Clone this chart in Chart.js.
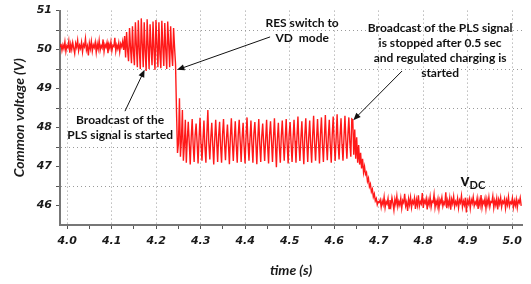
<!DOCTYPE html>
<html>
<head>
<meta charset="utf-8">
<script src="https://cdn.jsdelivr.net/npm/chart.js@4.4.1/dist/chart.umd.min.js"></script>
<style>
  body { margin: 0; background: #fff; }
  #wrap { width: 531px; height: 284px; position: relative; }
</style>
</head>
<body>
<div id="wrap"><canvas id="myChart"></canvas></div>
<script>
// sampled signal, one value every sampleStep seconds from startTime
const startTime = 3.984;
const sampleStep = 0.0022;

const beforeBroadcast = [
  50.08, 50.15, 49.98, 50.12, 50.02, 50.20, 49.95, 50.10, 50.05, 50.22,
  49.92, 50.14, 50.00, 50.18, 50.04, 49.90, 50.16, 50.06, 50.24, 49.97,
  50.11, 50.03, 50.19, 49.94, 50.13, 50.07, 50.28, 49.99, 50.09, 49.85,
  50.17, 50.02, 50.21, 49.96, 50.12, 50.05, 50.19, 49.93, 50.15, 50.01,
  50.23, 49.98, 50.10, 50.04, 50.26, 49.95, 50.13, 50.06, 50.18, 49.91,
  50.14, 50.03, 50.20, 49.97, 50.11, 50.08, 50.30, 49.96, 50.12, 50.02,
  50.17, 49.94, 50.15, 50.07, 50.21, 49.99
];

const plsBroadcast = [
  50.35, 49.80, 50.45, 50.00, 49.70, 50.55, 50.05, 49.65, 50.60, 49.95,
  49.60, 50.70, 50.10, 49.55, 50.75, 50.00, 49.50, 50.80, 50.15, 49.55,
  50.70, 49.95, 49.45, 50.78, 50.10, 49.50, 50.65, 50.05, 49.60, 50.72,
  49.98, 49.48, 50.76, 50.12, 49.55, 50.70, 49.90, 49.52, 50.74, 50.08,
  49.58, 50.68, 50.00, 49.50, 50.72, 50.15, 49.55, 50.60, 49.95, 49.58,
  50.55, 50.05, 49.62
];

const vdMode = [
  48.40, 47.35, 47.60, 48.75, 47.25, 47.70, 48.45, 47.15, 47.55, 48.20,
  47.10, 47.70, 48.15, 47.60, 47.05, 47.75, 48.22, 47.55, 47.12, 47.80,
  48.10, 47.62, 47.08, 47.72, 48.25, 47.58, 47.15, 47.68, 48.18, 47.50,
  47.10, 47.85, 48.45, 47.60, 47.18, 47.74, 48.12, 47.55, 47.05, 47.70,
  48.20, 47.64, 47.12, 47.78, 48.15, 47.52, 47.10, 47.82, 48.22, 47.60,
  47.16, 47.72, 48.08, 47.58, 47.06, 47.76, 48.24, 47.62, 47.14, 47.70,
  48.16, 47.55, 47.10, 47.80, 48.20, 47.66, 47.12, 47.74, 48.12, 47.52,
  47.08, 47.78, 48.26, 47.60, 47.15, 47.70, 48.18, 47.58, 47.10, 47.84,
  48.14, 47.62, 47.06, 47.72, 48.22, 47.56, 47.12, 47.76, 48.10, 47.60,
  47.14, 47.70, 48.20, 47.54, 47.08, 47.80, 48.16, 47.64, 47.12, 47.74,
  48.24, 47.58, 46.98, 47.70, 48.12, 47.52, 47.10, 47.78, 48.18, 47.62,
  47.15, 47.72, 48.22, 47.56, 47.08, 47.82, 48.14, 47.60, 47.12, 47.70,
  48.20, 47.66, 47.10, 47.76, 48.28, 47.58, 47.14, 47.72, 48.16, 47.54,
  47.06, 47.80, 48.24, 47.62, 47.12, 47.74, 48.18, 47.56, 47.10, 47.78,
  48.30, 47.60, 47.15, 47.70, 48.22, 47.64, 47.08, 47.82, 48.26, 47.58,
  47.12, 47.74, 48.32, 47.62, 47.16, 47.76, 48.20, 47.56, 47.10, 47.80,
  48.28, 47.64, 47.14, 47.72, 48.34, 47.60, 47.18, 47.78, 48.24, 47.58,
  47.15, 47.74, 48.30, 47.66, 47.20, 47.80, 48.26, 47.62, 47.25, 48.22
];

const chargingRamp = [
  48.20, 47.30, 47.95, 47.20, 47.75, 47.10, 47.55, 47.05, 47.35, 46.95,
  47.20, 46.85, 47.00, 46.80, 46.85, 46.62, 46.70, 46.48, 46.55, 46.35,
  46.42, 46.22, 46.30, 46.12, 46.18, 46.02, 46.10
];

const regulated = [
  46.08, 46.15, 45.96, 46.12, 46.02, 46.22, 45.94, 46.10, 46.04, 46.18,
  45.92, 46.14, 46.00, 46.20, 46.06, 45.88, 46.16, 46.03, 46.24, 45.97,
  46.11, 46.01, 46.19, 45.93, 46.13, 46.07, 46.30, 45.99, 46.09, 45.86,
  46.17, 46.02, 46.21, 45.95, 46.12, 46.05, 46.19, 45.91, 46.15, 46.00,
  46.26, 45.98, 46.10, 46.04, 46.32, 45.94, 46.13, 46.06, 46.18, 45.90,
  46.14, 46.02, 46.22, 45.96, 46.11, 46.08, 46.28, 45.95, 46.12, 46.01,
  46.17, 45.92, 46.15, 46.06, 46.21, 45.98, 46.09, 46.03, 46.34, 45.93,
  46.13, 46.00, 46.19, 45.89, 46.16, 46.05, 46.23, 45.97, 46.10, 46.02,
  46.18, 45.94, 46.14, 46.07, 46.25, 45.96, 46.11, 46.01, 46.20, 45.82,
  46.13, 46.04, 46.17, 45.93, 46.15, 46.06, 46.22, 45.99, 46.09, 46.03,
  46.19, 45.91, 46.14, 46.00, 46.27, 45.95, 46.12, 46.05, 46.18, 45.92,
  46.16, 46.02, 46.21, 45.97, 46.10, 46.08, 46.24, 45.94, 46.13, 46.01,
  46.18, 45.90, 46.15, 46.04, 46.20, 45.96, 46.11, 46.06, 46.17, 45.93,
  46.14, 46.02, 46.22, 45.98, 46.09, 46.05, 46.19, 45.95, 46.12, 46.00,
  46.16, 45.94, 46.13, 46.07, 46.20, 45.99
];

const timeTicks = [4.0, 4.1, 4.2, 4.3, 4.4, 4.5, 4.6, 4.7, 4.8, 4.9, 5.0];
const timeMinorTicks = [4.05, 4.15, 4.25, 4.35, 4.45, 4.55, 4.65, 4.75, 4.85, 4.95];
const voltTicks = [46, 47, 48, 49, 50, 51];
const voltGridLines = [46.5, 47.5, 48.5, 49.5, 50.5];

const signal = [].concat(beforeBroadcast, plsBroadcast, vdMode, chargingRamp, regulated)
  .map((v, i) => ({ x: startTime + i * sampleStep, y: v }));

// text notes and arrows, placed in data units (time, volts)
const notes = [
  { text: ['RES switch to', 'VD  mode'], t: 4.528, v: 50.675 },
  { text: ['Broadcast of the PLS signal', 'is stopped after 0.5 sec', 'and regulated charging is', 'started'], t: 4.838, v: 50.55 },
  { text: ['Broadcast of the', 'PLS signal is started'], t: 4.119, v: 48.2 }
];
const arrows = [
  { from: [4.456, 50.325], to: [4.247, 49.48] },
  { from: [4.7525, 49.45], to: [4.643, 48.19] },
  { from: [4.130, 48.42], to: [4.174, 49.48] }
];

const isOnGrid = (v, list) => list.some(g => Math.abs(g - v) < 1e-6);

const notesPlugin = {
  id: 'notes',
  afterDraw(chart) {
    const ctx = chart.ctx;
    const xs = chart.scales.x, ys = chart.scales.y;
    ctx.save();
    ctx.fillStyle = '#111';
    ctx.font = 'bold 12px Lato';
    ctx.textAlign = 'center';
    ctx.textBaseline = 'middle';
    notes.forEach(n => {
      const x = xs.getPixelForValue(n.t);
      const y0 = ys.getPixelForValue(n.v);
      n.text.forEach((line, i) => ctx.fillText(line, x, y0 + i * 15));
    });

    ctx.strokeStyle = '#111';
    ctx.lineWidth = 1;
    arrows.forEach(a => {
      const x1 = xs.getPixelForValue(a.from[0]), y1 = ys.getPixelForValue(a.from[1]);
      const x2 = xs.getPixelForValue(a.to[0]), y2 = ys.getPixelForValue(a.to[1]);
      const ang = Math.atan2(y2 - y1, x2 - x1);
      const head = 8;
      ctx.beginPath();
      ctx.moveTo(x1, y1);
      ctx.lineTo(x2 - Math.cos(ang) * head * 0.8, y2 - Math.sin(ang) * head * 0.8);
      ctx.stroke();
      ctx.beginPath();
      ctx.moveTo(x2, y2);
      ctx.lineTo(x2 - head * Math.cos(ang - 0.4), y2 - head * Math.sin(ang - 0.4));
      ctx.lineTo(x2 - head * Math.cos(ang + 0.4), y2 - head * Math.sin(ang + 0.4));
      ctx.closePath();
      ctx.fill();
    });

    // V_DC label
    const lx = xs.getPixelForValue(4.884), ly = ys.getPixelForValue(46.0);
    ctx.textAlign = 'left';
    ctx.textBaseline = 'alphabetic';
    ctx.font = 'bold 17px Lato';
    ctx.fillText('v', lx, ly - 20);
    const w = ctx.measureText('v').width;
    ctx.font = 'bold 11px Lato';
    ctx.fillText('DC', lx + w, ly - 17);
    ctx.restore();
  }
};

const tickFont = { family: 'DejaVu Sans', size: 11, weight: 'bold', style: 'italic' };
const titleFont = { family: 'Lato', size: 14, weight: 'bold', style: 'italic' };

const ctx = document.getElementById('myChart').getContext('2d');
const myChart = new Chart(ctx, {
  type: 'line',
  data: {
    datasets: [{
      data: signal,
      borderColor: 'rgba(255, 0, 0, 0.9)',
      borderWidth: 1.4,
      pointRadius: 0,
      tension: 0,
      fill: false
    }]
  },
  options: {
    responsive: true,
    maintainAspectRatio: false,
    animation: false,
    layout: { padding: { top: 5, right: 9, left: 0, bottom: 0 } },
    plugins: { legend: { display: false }, tooltip: { enabled: false } },
    scales: {
      x: {
        type: 'linear',
        min: 3.984,
        max: 5.022,
        afterBuildTicks: axis => {
          axis.ticks = timeTicks.concat(timeMinorTicks).sort((a, b) => a - b).map(v => ({ value: v }));
        },
        afterFit: s => { s.height = 59; },
        ticks: {
          autoSkip: false,
          maxRotation: 0,
          padding: 6,
          color: '#1a1a1a',
          font: tickFont,
          callback: v => isOnGrid(v, timeTicks) ? v.toFixed(1) : ''
        },
        grid: {
          color: c => c.tick && isOnGrid(c.tick.value, timeTicks) ? '#9a9a9a' : 'rgba(0,0,0,0)',
          tickColor: '#555',
          tickLength: 4,
          lineWidth: 1
        },
        border: { display: true, color: '#777', width: 2, dash: [1, 3] },
        title: {
          display: true,
          text: 'time (s)',
          color: '#1a1a1a',
          font: titleFont,
          padding: { top: 0, bottom: 5 }
        }
      },
      y: {
        min: 45.5,
        max: 51,
        afterBuildTicks: axis => {
          axis.ticks = voltTicks.concat(voltGridLines).sort((a, b) => a - b).map(v => ({ value: v }));
        },
        afterFit: s => { s.width = 60; },
        ticks: {
          autoSkip: false,
          padding: 4,
          color: '#1a1a1a',
          font: tickFont,
          callback: v => isOnGrid(v, voltTicks) ? String(v) : ''
        },
        grid: {
          color: c => c.tick && isOnGrid(c.tick.value, voltGridLines) ? '#9a9a9a' : 'rgba(0,0,0,0)',
          tickColor: '#555',
          tickLength: 4,
          lineWidth: 1
        },
        border: { display: true, color: '#777', width: 2, dash: [1, 3] },
        title: {
          display: true,
          text: 'Common voltage (V)',
          color: '#1a1a1a',
          font: titleFont,
          padding: { top: 11, bottom: 0 }
        }
      }
    }
  },
  plugins: [notesPlugin]
});
</script>
</body>
</html>
